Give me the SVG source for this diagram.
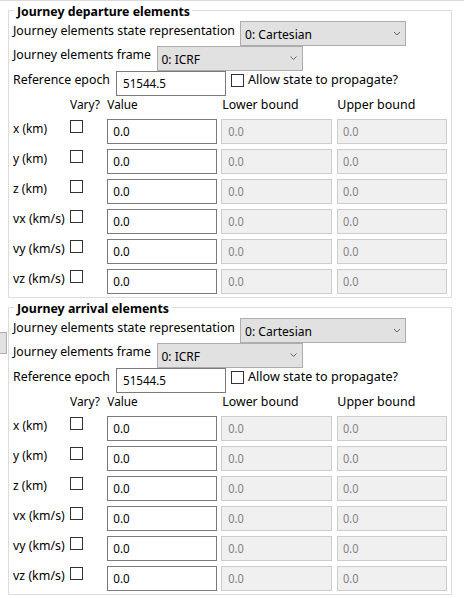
<svg xmlns="http://www.w3.org/2000/svg" width="464" height="598" viewBox="0 0 464 598">
<style>
text{font-family:"Segoe UI","Noto Sans","Open Sans",sans-serif;font-size:12px;fill:#000}
.t{font-weight:bold}
.dis{fill:#838383}
.frame{fill:none;stroke:#dcdcdc;stroke-width:1}
.combo{fill:#e1e1e1;stroke:#adadad;stroke-width:1}
.edit{fill:#fff;stroke:#7a7a7a;stroke-width:1}
.ro{fill:#f0f0f0;stroke:#cccccc;stroke-width:1}
.cb{fill:#fff;stroke:#333;stroke-width:1}
.chev{fill:none;stroke:#606060;stroke-width:1}
</style>
<rect x="0" y="0" width="464" height="598" fill="#fff"/>
<line x1="0" y1="0.5" x2="464" y2="0.5" stroke="#dadada"/>
<rect id="stub" x="-0.5" y="332.5" width="7" height="21" class="combo"/>
<g id="connectors"/>

<g id="departure">
<path class="frame" d="M14 10.5H8.5V297.5H451.5V10.5H192"/>
<text class="t" x="17" y="16" textLength="173" lengthAdjust="spacingAndGlyphs">Journey departure elements</text>
<g id="dep-rep">
<text x="13" y="34.5" textLength="222" lengthAdjust="spacingAndGlyphs">Journey elements state representation</text>
<rect class="combo" x="240.5" y="21.5" width="165" height="24"/>
<text x="245" y="39" textLength="67" lengthAdjust="spacingAndGlyphs">0: Cartesian</text>
<path class="chev" d="M394 32L397 35L400 32"/>
</g>
<g id="dep-frame">
<text x="13" y="59" textLength="138" lengthAdjust="spacingAndGlyphs">Journey elements frame</text>
<rect class="combo" x="157.5" y="46.5" width="145" height="24"/>
<text x="161.5" y="64" textLength="38.5" lengthAdjust="spacingAndGlyphs">0: ICRF</text>
<path class="chev" d="M290.5 56.5L293.5 59.5L296.5 56.5"/>
</g>
<g id="dep-epoch">
<text x="13" y="84" textLength="97" lengthAdjust="spacingAndGlyphs">Reference epoch</text>
<rect class="edit" x="116.5" y="71.5" width="109" height="24"/>
<text x="123" y="88" textLength="43" lengthAdjust="spacingAndGlyphs">51544.5</text>
<rect class="cb" x="231.5" y="74.5" width="12" height="12"/>
<text x="248" y="84.3" textLength="150" lengthAdjust="spacingAndGlyphs">Allow state to propagate?</text>
</g>
<g id="dep-head">
<text x="70" y="109.3" textLength="30" lengthAdjust="spacingAndGlyphs">Vary?</text>
<text x="107.3" y="109.3" textLength="30.4" lengthAdjust="spacingAndGlyphs">Value</text>
<text x="222.3" y="109.3" textLength="76.4" lengthAdjust="spacingAndGlyphs">Lower bound</text>
<text x="337.3" y="109.3" textLength="78" lengthAdjust="spacingAndGlyphs">Upper bound</text>
</g>
<g id="dep-x">
<text x="13" y="132.5" textLength="34" lengthAdjust="spacingAndGlyphs">x (km)</text>
<rect class="cb" x="70.5" y="120.5" width="12" height="12"/>
<rect class="edit" x="107.5" y="119.5" width="109" height="24"/><text x="113.3" y="136" textLength="16.4" lengthAdjust="spacingAndGlyphs">0.0</text>
<rect class="ro" x="221.5" y="119.5" width="110" height="24"/><text class="dis" x="228.3" y="136" textLength="15.5" lengthAdjust="spacingAndGlyphs">0.0</text>
<rect class="ro" x="337.5" y="119.5" width="109" height="24"/><text class="dis" x="343" y="136" textLength="15.5" lengthAdjust="spacingAndGlyphs">0.0</text>
</g>
<g id="dep-y">
<text x="13" y="162.5" textLength="34" lengthAdjust="spacingAndGlyphs">y (km)</text>
<rect class="cb" x="70.5" y="150.5" width="12" height="12"/>
<rect class="edit" x="107.5" y="149.5" width="109" height="24"/><text x="113.3" y="166" textLength="16.4" lengthAdjust="spacingAndGlyphs">0.0</text>
<rect class="ro" x="221.5" y="149.5" width="110" height="24"/><text class="dis" x="228.3" y="166" textLength="15.5" lengthAdjust="spacingAndGlyphs">0.0</text>
<rect class="ro" x="337.5" y="149.5" width="109" height="24"/><text class="dis" x="343" y="166" textLength="15.5" lengthAdjust="spacingAndGlyphs">0.0</text>
</g>
<g id="dep-z">
<text x="13" y="192.5" textLength="34" lengthAdjust="spacingAndGlyphs">z (km)</text>
<rect class="cb" x="70.5" y="180.5" width="12" height="12"/>
<rect class="edit" x="107.5" y="179.5" width="109" height="24"/><text x="113.3" y="196" textLength="16.4" lengthAdjust="spacingAndGlyphs">0.0</text>
<rect class="ro" x="221.5" y="179.5" width="110" height="24"/><text class="dis" x="228.3" y="196" textLength="15.5" lengthAdjust="spacingAndGlyphs">0.0</text>
<rect class="ro" x="337.5" y="179.5" width="109" height="24"/><text class="dis" x="343" y="196" textLength="15.5" lengthAdjust="spacingAndGlyphs">0.0</text>
</g>
<g id="dep-vx">
<text x="13" y="222.5" textLength="51.7" lengthAdjust="spacingAndGlyphs">vx (km/s)</text>
<rect class="cb" x="70.5" y="210.5" width="12" height="12"/>
<rect class="edit" x="107.5" y="209.5" width="109" height="24"/><text x="113.3" y="226" textLength="16.4" lengthAdjust="spacingAndGlyphs">0.0</text>
<rect class="ro" x="221.5" y="209.5" width="110" height="24"/><text class="dis" x="228.3" y="226" textLength="15.5" lengthAdjust="spacingAndGlyphs">0.0</text>
<rect class="ro" x="337.5" y="209.5" width="109" height="24"/><text class="dis" x="343" y="226" textLength="15.5" lengthAdjust="spacingAndGlyphs">0.0</text>
</g>
<g id="dep-vy">
<text x="13" y="252.5" textLength="51.7" lengthAdjust="spacingAndGlyphs">vy (km/s)</text>
<rect class="cb" x="70.5" y="240.5" width="12" height="12"/>
<rect class="edit" x="107.5" y="239.5" width="109" height="24"/><text x="113.3" y="256" textLength="16.4" lengthAdjust="spacingAndGlyphs">0.0</text>
<rect class="ro" x="221.5" y="239.5" width="110" height="24"/><text class="dis" x="228.3" y="256" textLength="15.5" lengthAdjust="spacingAndGlyphs">0.0</text>
<rect class="ro" x="337.5" y="239.5" width="109" height="24"/><text class="dis" x="343" y="256" textLength="15.5" lengthAdjust="spacingAndGlyphs">0.0</text>
</g>
<g id="dep-vz">
<text x="13" y="282.5" textLength="51.7" lengthAdjust="spacingAndGlyphs">vz (km/s)</text>
<rect class="cb" x="70.5" y="270.5" width="12" height="12"/>
<rect class="edit" x="107.5" y="269.5" width="109" height="24"/><text x="113.3" y="286" textLength="16.4" lengthAdjust="spacingAndGlyphs">0.0</text>
<rect class="ro" x="221.5" y="269.5" width="110" height="24"/><text class="dis" x="228.3" y="286" textLength="15.5" lengthAdjust="spacingAndGlyphs">0.0</text>
<rect class="ro" x="337.5" y="269.5" width="109" height="24"/><text class="dis" x="343" y="286" textLength="15.5" lengthAdjust="spacingAndGlyphs">0.0</text>
</g>
</g>

<g id="arrival">
<path class="frame" d="M14 307.5H8.5V594.5H451.5V307.5H171"/>
<text class="t" x="17" y="313" textLength="152" lengthAdjust="spacingAndGlyphs">Journey arrival elements</text>
<g id="arr-rep">
<text x="13" y="331.5" textLength="222" lengthAdjust="spacingAndGlyphs">Journey elements state representation</text>
<rect class="combo" x="240.5" y="318.5" width="165" height="24"/>
<text x="245" y="336" textLength="67" lengthAdjust="spacingAndGlyphs">0: Cartesian</text>
<path class="chev" d="M394 329L397 332L400 329"/>
</g>
<g id="arr-frame">
<text x="13" y="356" textLength="138" lengthAdjust="spacingAndGlyphs">Journey elements frame</text>
<rect class="combo" x="157.5" y="343.5" width="145" height="24"/>
<text x="161.5" y="361" textLength="38.5" lengthAdjust="spacingAndGlyphs">0: ICRF</text>
<path class="chev" d="M290.5 353.5L293.5 356.5L296.5 353.5"/>
</g>
<g id="arr-epoch">
<text x="13" y="381" textLength="97" lengthAdjust="spacingAndGlyphs">Reference epoch</text>
<rect class="edit" x="116.5" y="368.5" width="109" height="24"/>
<text x="123" y="385" textLength="43" lengthAdjust="spacingAndGlyphs">51544.5</text>
<rect class="cb" x="231.5" y="371.5" width="12" height="12"/>
<text x="248" y="381.3" textLength="150" lengthAdjust="spacingAndGlyphs">Allow state to propagate?</text>
</g>
<g id="arr-head">
<text x="70" y="406.3" textLength="30" lengthAdjust="spacingAndGlyphs">Vary?</text>
<text x="107.3" y="406.3" textLength="30.4" lengthAdjust="spacingAndGlyphs">Value</text>
<text x="222.3" y="406.3" textLength="76.4" lengthAdjust="spacingAndGlyphs">Lower bound</text>
<text x="337.3" y="406.3" textLength="78" lengthAdjust="spacingAndGlyphs">Upper bound</text>
</g>
<g id="arr-x">
<text x="13" y="429.5" textLength="34" lengthAdjust="spacingAndGlyphs">x (km)</text>
<rect class="cb" x="70.5" y="417.5" width="12" height="12"/>
<rect class="edit" x="107.5" y="416.5" width="109" height="24"/><text x="113.3" y="433" textLength="16.4" lengthAdjust="spacingAndGlyphs">0.0</text>
<rect class="ro" x="221.5" y="416.5" width="110" height="24"/><text class="dis" x="228.3" y="433" textLength="15.5" lengthAdjust="spacingAndGlyphs">0.0</text>
<rect class="ro" x="337.5" y="416.5" width="109" height="24"/><text class="dis" x="343" y="433" textLength="15.5" lengthAdjust="spacingAndGlyphs">0.0</text>
</g>
<g id="arr-y">
<text x="13" y="459.5" textLength="34" lengthAdjust="spacingAndGlyphs">y (km)</text>
<rect class="cb" x="70.5" y="447.5" width="12" height="12"/>
<rect class="edit" x="107.5" y="446.5" width="109" height="24"/><text x="113.3" y="463" textLength="16.4" lengthAdjust="spacingAndGlyphs">0.0</text>
<rect class="ro" x="221.5" y="446.5" width="110" height="24"/><text class="dis" x="228.3" y="463" textLength="15.5" lengthAdjust="spacingAndGlyphs">0.0</text>
<rect class="ro" x="337.5" y="446.5" width="109" height="24"/><text class="dis" x="343" y="463" textLength="15.5" lengthAdjust="spacingAndGlyphs">0.0</text>
</g>
<g id="arr-z">
<text x="13" y="489.5" textLength="34" lengthAdjust="spacingAndGlyphs">z (km)</text>
<rect class="cb" x="70.5" y="477.5" width="12" height="12"/>
<rect class="edit" x="107.5" y="476.5" width="109" height="24"/><text x="113.3" y="493" textLength="16.4" lengthAdjust="spacingAndGlyphs">0.0</text>
<rect class="ro" x="221.5" y="476.5" width="110" height="24"/><text class="dis" x="228.3" y="493" textLength="15.5" lengthAdjust="spacingAndGlyphs">0.0</text>
<rect class="ro" x="337.5" y="476.5" width="109" height="24"/><text class="dis" x="343" y="493" textLength="15.5" lengthAdjust="spacingAndGlyphs">0.0</text>
</g>
<g id="arr-vx">
<text x="13" y="519.5" textLength="51.7" lengthAdjust="spacingAndGlyphs">vx (km/s)</text>
<rect class="cb" x="70.5" y="507.5" width="12" height="12"/>
<rect class="edit" x="107.5" y="506.5" width="109" height="24"/><text x="113.3" y="523" textLength="16.4" lengthAdjust="spacingAndGlyphs">0.0</text>
<rect class="ro" x="221.5" y="506.5" width="110" height="24"/><text class="dis" x="228.3" y="523" textLength="15.5" lengthAdjust="spacingAndGlyphs">0.0</text>
<rect class="ro" x="337.5" y="506.5" width="109" height="24"/><text class="dis" x="343" y="523" textLength="15.5" lengthAdjust="spacingAndGlyphs">0.0</text>
</g>
<g id="arr-vy">
<text x="13" y="549.5" textLength="51.7" lengthAdjust="spacingAndGlyphs">vy (km/s)</text>
<rect class="cb" x="70.5" y="537.5" width="12" height="12"/>
<rect class="edit" x="107.5" y="536.5" width="109" height="24"/><text x="113.3" y="553" textLength="16.4" lengthAdjust="spacingAndGlyphs">0.0</text>
<rect class="ro" x="221.5" y="536.5" width="110" height="24"/><text class="dis" x="228.3" y="553" textLength="15.5" lengthAdjust="spacingAndGlyphs">0.0</text>
<rect class="ro" x="337.5" y="536.5" width="109" height="24"/><text class="dis" x="343" y="553" textLength="15.5" lengthAdjust="spacingAndGlyphs">0.0</text>
</g>
<g id="arr-vz">
<text x="13" y="579.5" textLength="51.7" lengthAdjust="spacingAndGlyphs">vz (km/s)</text>
<rect class="cb" x="70.5" y="567.5" width="12" height="12"/>
<rect class="edit" x="107.5" y="566.5" width="109" height="24"/><text x="113.3" y="583" textLength="16.4" lengthAdjust="spacingAndGlyphs">0.0</text>
<rect class="ro" x="221.5" y="566.5" width="110" height="24"/><text class="dis" x="228.3" y="583" textLength="15.5" lengthAdjust="spacingAndGlyphs">0.0</text>
<rect class="ro" x="337.5" y="566.5" width="109" height="24"/><text class="dis" x="343" y="583" textLength="15.5" lengthAdjust="spacingAndGlyphs">0.0</text>
</g>
</g>
</svg>
